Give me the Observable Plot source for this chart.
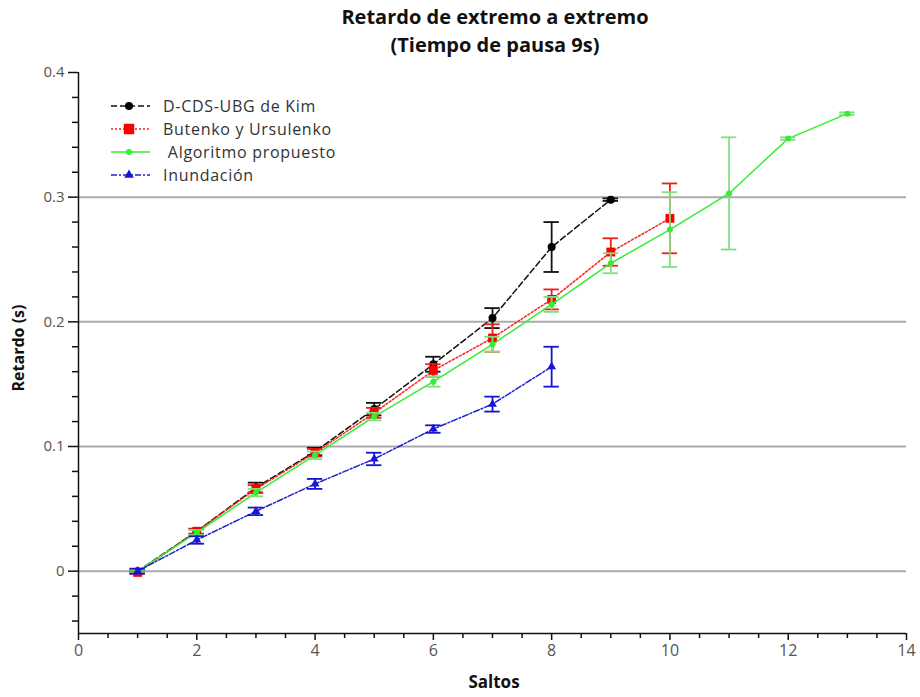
<!DOCTYPE html>
<html>
<head>
<meta charset="utf-8">
<script src="https://cdn.jsdelivr.net/npm/d3@7"></script>
<script src="https://cdn.jsdelivr.net/npm/@observablehq/plot@0.6"></script>
<style>
  body { margin: 0; background: #fff; font-family: "Open Sans", "DejaVu Sans", sans-serif; }
  #wrap { position: relative; width: 920px; height: 697px; }
  #title { position: absolute; left: 0; width: 990px; top: 3px; text-align: center; font-weight: bold; font-size: 20px; line-height: 28px; color: #111; }
  #legend { position: absolute; left: 0; top: 0; }
</style>
</head>
<body>
<div id="wrap">
  <div id="chart"></div>
  <div id="title">Retardo de extremo a extremo<br>(Tiempo de pausa 9s)</div>
  <svg id="legend" width="400" height="200"></svg>
</div>
<script>
// ---- data ----
const seriesNames = ["D-CDS-UBG de Kim", "Butenko y Ursulenko", " Algoritmo propuesto", "Inundación"];

const kimX   = [1, 2, 3, 4, 5, 6, 7, 8, 9];
const kimY   = [0.000, 0.032, 0.067, 0.096, 0.130, 0.166, 0.203, 0.260, 0.298];
const kimErr = [0.001, 0.002, 0.004, 0.003, 0.005, 0.006, 0.008, 0.020, 0.001];

const butX   = [1, 2, 3, 4, 5, 6, 7, 8, 9, 10];
const butY   = [-0.001, 0.032, 0.066, 0.095, 0.127, 0.161, 0.187, 0.218, 0.256, 0.283];
const butErr = [0.001, 0.002, 0.003, 0.003, 0.004, 0.005, 0.011, 0.008, 0.011, 0.028];

const algX   = [1, 2, 3, 4, 5, 6, 7, 8, 9, 10, 11, 12, 13];
const algY   = [0.000, 0.031, 0.063, 0.093, 0.124, 0.152, 0.182, 0.214, 0.247, 0.274, 0.303, 0.347, 0.367];
const algErr = [0.001, 0.002, 0.003, 0.003, 0.003, 0.004, 0.006, 0.006, 0.008, 0.030, 0.045, 0.001, 0.001];

const innX   = [1, 2, 3, 4, 5, 6, 7, 8];
const innY   = [0.000, 0.025, 0.048, 0.070, 0.090, 0.114, 0.134, 0.164];
const innErr = [0.002, 0.003, 0.003, 0.004, 0.005, 0.003, 0.006, 0.016];

const xTicks = [0, 2, 4, 6, 8, 10, 12, 14];
const xMinorTicks = [0.5, 1, 1.5, 2.5, 3, 3.5, 4.5, 5, 5.5, 6.5, 7, 7.5, 8.5, 9, 9.5, 10.5, 11, 11.5, 12.5, 13, 13.5];
const yTicks = [0, 0.1, 0.2, 0.3, 0.4];
const yMinorTicks = [-0.04, -0.02, 0.02, 0.04, 0.06, 0.08, 0.12, 0.14, 0.16, 0.18, 0.22, 0.24, 0.26, 0.28, 0.32, 0.34, 0.36, 0.38];
const gridY = [0, 0.1, 0.2, 0.3];

// ---- build ----
const styles = [
  {line: "#111", dash: "6,3", mark: "#000", err: "#111", symbol: "circle", r: 4},
  {line: "#ff2020", dash: "2,2", mark: "#ff0000", err: "#e82020", symbol: "square", r: 5},
  {line: "#33ee33", dash: null, mark: "#33ee33", err: "#80e080", symbol: "circle", r: 3},
  {line: "#2222cc", dash: "6,2,2,2", mark: "#1515dd", err: "#1515cc", symbol: "triangle", r: 3.3}
];
const raw = [[kimX, kimY, kimErr], [butX, butY, butErr], [algX, algY, algErr], [innX, innY, innErr]];
const series = raw.map(([xs, ys, es]) => xs.map((x, i) => ({x, y: ys[i], e: es[i]})));
const cap = 0.13;

const marks = [
  Plot.ruleY(gridY, {stroke: "#aaa", strokeWidth: 2}),
  Plot.axisX({ticks: xTicks, tickSize: 7, tickFormat: d3.format("d"), fontSize: 16, fill: "#555", tickPadding: 4, label: null, strokeWidth: 1.5, stroke: "#111"}),
  Plot.axisX({ticks: xMinorTicks, tickSize: 5, tickFormat: null, label: null, text: null, strokeWidth: 1.5, stroke: "#111"}),
  Plot.axisY({ticks: yTicks, tickSize: 10, tickFormat: d3.format("~g"), fontSize: 15, fill: "#555", tickPadding: 4, label: null, strokeWidth: 1.5, stroke: "#111"}),
  Plot.axisY({ticks: yMinorTicks, tickSize: 6, tickFormat: null, label: null, text: null, strokeWidth: 1.5, stroke: "#111"}),
  Plot.ruleX([0], {stroke: "#111", strokeWidth: 1.5}),
  Plot.ruleY([-0.05], {stroke: "#111", strokeWidth: 1.5})
];

series.forEach((data, k) => {
  const s = styles[k];
  marks.push(
    Plot.line(data, {x: "x", y: "y", stroke: s.line, strokeWidth: 1.5, strokeDasharray: s.dash}),
    Plot.ruleX(data, {x: "x", y1: d => d.y - d.e, y2: d => d.y + d.e, stroke: s.err, strokeWidth: 1.8}),
    Plot.ruleY(data, {y: d => d.y - d.e, x1: d => d.x - cap, x2: d => d.x + cap, stroke: s.err, strokeWidth: 1.8}),
    Plot.ruleY(data, {y: d => d.y + d.e, x1: d => d.x - cap, x2: d => d.x + cap, stroke: s.err, strokeWidth: 1.8}),
    Plot.dot(data, {x: "x", y: "y", symbol: () => s.symbol, fill: s.mark, stroke: "none", r: s.r})
  );
});

const chart = Plot.plot({
  width: 920,
  height: 697,
  marginLeft: 78,
  marginRight: 14,
  marginTop: 72,
  marginBottom: 64,
  style: {fontFamily: "'Open Sans', 'DejaVu Sans', sans-serif", background: "#fff"},
  x: {domain: [0, 14]},
  y: {domain: [-0.05, 0.4]},
  symbol: {type: "identity"},
  marks
});
document.getElementById("chart").appendChild(chart);

// axis titles
const svg = d3.select(chart);
svg.append("text").attr("x", 494).attr("y", 688).attr("text-anchor", "middle")
  .attr("font-weight", "bold").attr("font-size", 17).attr("fill", "#111").text("Saltos");
svg.append("text").attr("transform", "translate(24,348) rotate(-90)").attr("text-anchor", "middle")
  .attr("font-weight", "bold").attr("font-size", 16).attr("fill", "#111").text("Retardo (s)");

// legend
const leg = d3.select("#legend");
const rowsY = [106, 129, 152, 175];
seriesNames.forEach((name, k) => {
  const s = styles[k], y = rowsY[k];
  leg.append("line").attr("x1", 111).attr("x2", 150).attr("y1", y).attr("y2", y)
    .attr("stroke", s.line).attr("stroke-width", 1.5).attr("stroke-dasharray", s.dash);
  const sym = {circle: d3.symbolCircle, square: d3.symbolSquare, triangle: d3.symbolTriangle}[s.symbol];
  const area = s.symbol === "square" ? 110 : s.symbol === "triangle" ? 40 : Math.PI * s.r * s.r;
  leg.append("path").attr("d", d3.symbol(sym, area)()).attr("transform", `translate(129,${y})`).attr("fill", s.mark);
  leg.append("text").attr("x", 163).attr("y", y + 6).attr("font-size", 16).attr("letter-spacing", "0.7px").attr("fill", "#333")
    .attr("font-family", "'Open Sans', 'DejaVu Sans', sans-serif").attr("xml:space", "preserve").style("white-space", "pre").text(name);
});
</script>
</body>
</html>
